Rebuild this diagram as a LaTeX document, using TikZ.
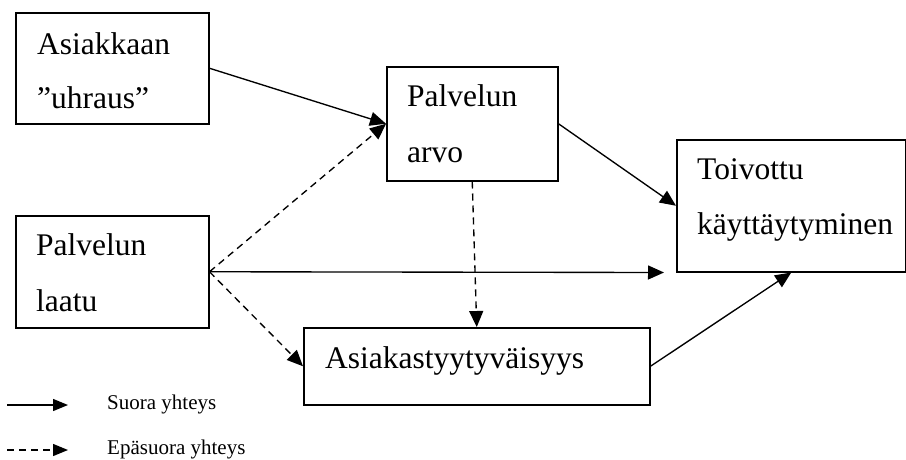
\documentclass[tikz,border=0pt]{standalone}
\usepackage{fontspec}
\setmainfont{Liberation Serif}
\usetikzlibrary{arrows.meta}

\begin{document}
\begin{tikzpicture}[x=1pt,y=-1pt,
  box/.style={draw, line width=1.5pt, rectangle, inner sep=0pt, anchor=north west},
  lbl/.style={anchor=base west, inner sep=0pt, font=\fontsize{31.5}{36}\selectfont},
  legtext/.style={anchor=base west, inner sep=0pt, font=\fontsize{21}{24}\selectfont},
  conn/.style={line width=1.35pt, -{Triangle[length=16pt,width=14pt]}},
  indirect/.style={conn, dash pattern=on 7pt off 5pt}
]
\useasboundingbox (0,0) rectangle (906,459);

% boxes
\node[box, minimum width=193pt, minimum height=111pt] (uhraus) at (15,12) {};
\node[box, minimum width=171pt, minimum height=114pt] (arvo)   at (386,66) {};
\node[box, minimum width=229pt, minimum height=132pt] (toiv)   at (676,139) {};
\node[box, minimum width=193pt, minimum height=112pt] (laatu)  at (15,215) {};
\node[box, minimum width=346pt, minimum height=77pt]  (tyyt)   at (303,327) {};

% box texts
\node[lbl] (t1a) at (37,54)  {Asiakkaan};
\node[lbl] (t1b) at (37,108) {”uhraus”};
\node[lbl] (t2a) at (407,106) {Palvelun};
\node[lbl] (t2b) at (407,162) {arvo};
\node[lbl] (t3a) at (697,179) {Toivottu};
\node[lbl] (t3b) at (697,234) {käyttäytyminen};
\node[lbl] (t4a) at (36,255) {Palvelun};
\node[lbl] (t4b) at (36,311) {laatu};
\node[lbl] (t5)  at (325,368) {Asiakastyytyväisyys};

% connectors
\coordinate (hend) at ([xshift=-12pt]toiv.south west);
\draw[conn] (uhraus.east) -- (arvo.west);
\draw[conn] (arvo.east) -- (toiv.west);
\draw[conn] (laatu.east) -- (hend);
\draw[conn] (tyyt.east) -- (toiv.south);
\draw[indirect] (laatu.east) -- (arvo.west);
\draw[indirect] (laatu.east) -- (tyyt.west);
\draw[indirect] (arvo.south) -- (tyyt.north);

% legend
\coordinate (s1) at (7,405);
\coordinate (s2) at (68,405);
\coordinate (d1) at (7,450);
\coordinate (d2) at (68,450);
\draw[conn, -{Triangle[length=15pt,width=12pt]}] (s1) -- (s2);
\draw[indirect, -{Triangle[length=15pt,width=12pt]}] (d1) -- (d2);
\node[legtext] (leg1) at (107,409) {Suora yhteys};
\node[legtext] (leg2) at (107,454) {Epäsuora yhteys};
\end{tikzpicture}
\end{document}
